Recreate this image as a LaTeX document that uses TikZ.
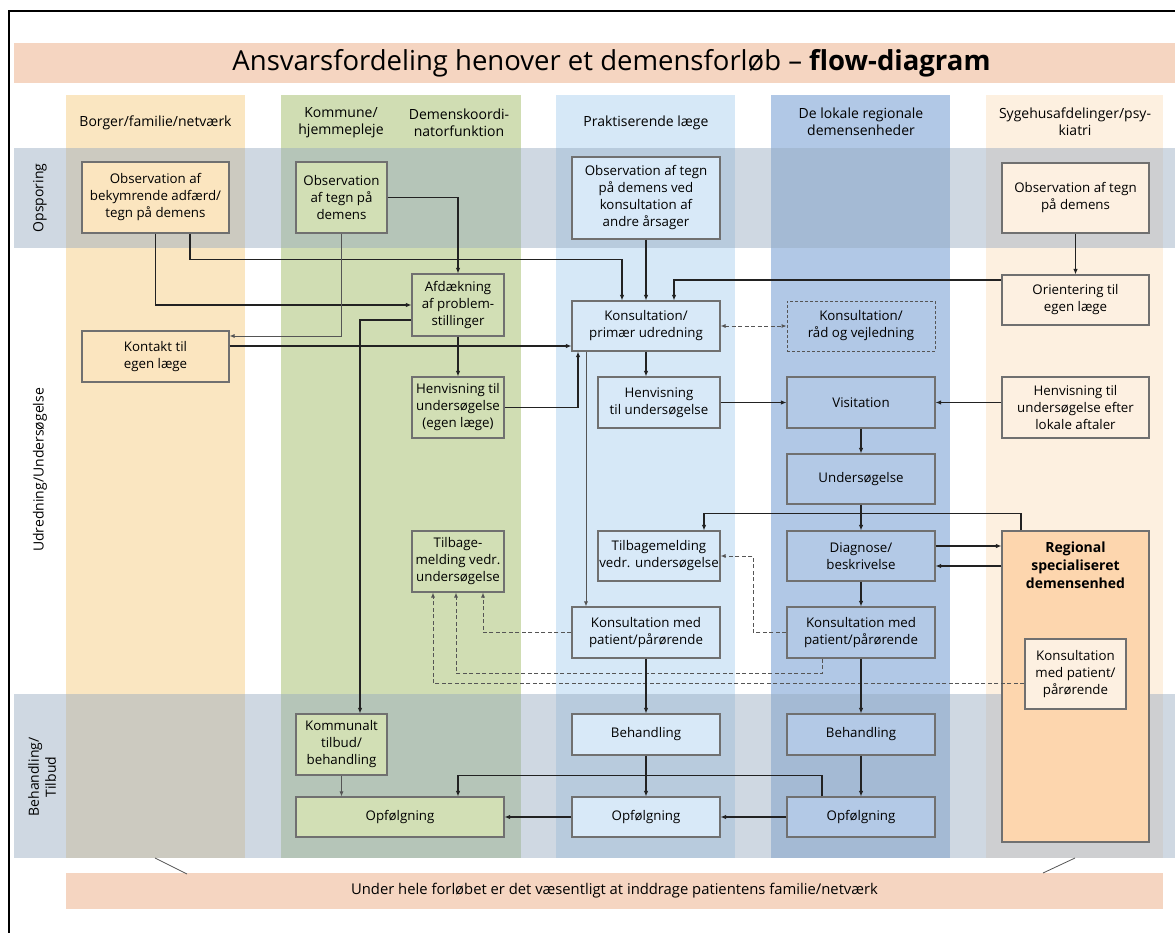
\documentclass[tikz,border=0pt]{standalone}
\usepackage{fontspec}
\setmainfont{Open Sans}
\usetikzlibrary{arrows.meta}
\definecolor{colYellow}{HTML}{FAE6C1}
\definecolor{colGreen}{HTML}{D0DDB3}
\definecolor{colLBlue}{HTML}{D6E8F7}
\definecolor{colMBlue}{HTML}{B1C8E6}
\definecolor{colPeach}{HTML}{FDF0E0}
\definecolor{titleBand}{HTML}{F5D5C1}
\definecolor{rowBand}{HTML}{95A9BF}
\definecolor{boxYellow}{HTML}{FBE5BF}
\definecolor{boxGreen}{HTML}{D2DFB5}
\definecolor{boxLBlue}{HTML}{D8E9F8}
\definecolor{boxMBlue}{HTML}{B3C9E6}
\definecolor{boxPeach}{HTML}{FDF0E1}
\definecolor{boxOrange}{HTML}{FDD6AE}
\definecolor{borderGray}{HTML}{707070}
\definecolor{lineDark}{HTML}{222222}
\definecolor{lineGray}{HTML}{555555}
\begin{document}
\begin{tikzpicture}[x=1pt,y=-1pt,
  bx/.style={draw=borderGray, line width=1.1pt, align=center, inner sep=0pt,
    font=\fontsize{13.3}{17}\selectfont},
  hdr/.style={align=center, font=\fontsize{14}{17}\selectfont, inner sep=0pt},
  conn/.style={draw=lineDark, line width=1.3pt, -{Latex[length=5.5pt,width=4.5pt]}},
  thinconn/.style={draw=lineGray, line width=0.8pt, -{Latex[length=5pt,width=4pt]}},
  dashconn/.style={draw=lineGray, line width=0.9pt, dash pattern=on 4pt off 2.5pt, -{Latex[length=5pt,width=4pt]}},
  band/.style={fill=rowBand, fill opacity=0.45, draw=none}
]
\useasboundingbox (0,0) rectangle (1175,933);
\fill[white] (0,0) rectangle (1175,933);
% frame
\draw[line width=2.2pt, black] (9,933) -- (9,11) -- (1175,11);
% title band
\fill[titleBand] (14,43) rectangle (1175,83);
\node[inner sep=0pt, font=\fontsize{27.5}{32}\selectfont] (title) at (611.5,63) {Ansvarsfordeling henover et demensforløb – \textbf{flow-diagram}};
% columns
\fill[colYellow] (66,95) rectangle (245,858);
\fill[colGreen] (281,95) rectangle (521,858);
\fill[colLBlue] (556,95) rectangle (735,858);
\fill[colMBlue] (771,95) rectangle (950,858);
\fill[colPeach] (986,95) rectangle (1163,858);
% row bands
\fill[band] (14,148) rectangle (1175,248);
\fill[band] (14,694) rectangle (1175,858);
% column headers
\node[hdr] (h1) at (155.5,123) {Borger/familie/netværk};
\node[hdr] (h2) at (341,123) {Kommune/\\hjemmepleje};
\node[hdr] (h3) at (459,123) {Demenskoordi-\\natorfunktion};
\node[hdr] (h4) at (646,123) {Praktiserende læge};
\node[hdr] (h5) at (861,122) {De lokale regionale\\demensenheder};
\node[hdr] (h6) at (1075,122) {Sygehusafdelinger/psy-\\kiatri};
% row labels
\node[hdr, rotate=90] (r1) at (40,198) {Opsporing};
\node[hdr, rotate=90] (r2) at (40,470) {Udredning/Undersøgelse};
\node[hdr, rotate=90] (r3) at (42,777) {Behandling/\\Tilbud};
% bottom band
\fill[titleBand] (66,873) rectangle (1163,909);
\node[hdr, font=\fontsize{14.8}{17}\selectfont] (foot) at (614.5,891) {Under hele forløbet er det væsentligt at inddrage patientens familie/netværk};
\draw[lineGray, line width=0.8pt] (155,858) -- (187,874);
\draw[lineGray, line width=0.8pt] (1075,858) -- (1043,873);
% boxes: Borger
\node[bx, fill=boxYellow, minimum width=147pt, minimum height=71pt] (B1) at (155.5,197.5) {Observation af\\bekymrende adfærd/\\tegn på demens};
\node[bx, fill=boxYellow, minimum width=147pt, minimum height=51pt] (B2) at (155.5,356.5) {Kontakt til\\egen læge};
% Kommune
\node[bx, fill=boxGreen, minimum width=91pt, minimum height=71pt] (G1) at (341.5,197.5) {Observation\\af tegn på\\demens};
\node[bx, fill=boxGreen, minimum width=92pt, minimum height=62pt] (G2) at (458,305) {Afdækning\\af problem-\\stillinger};
\node[bx, fill=boxGreen, minimum width=92pt, minimum height=61pt] (G3) at (458,407.5) {Henvisning til\\undersøgelse\\(egen læge)};
\node[bx, fill=boxGreen, minimum width=92pt, minimum height=61pt] (G4) at (458,561.5) {Tilbage-\\melding vedr.\\undersøgelse};
\node[bx, fill=boxGreen, minimum width=91pt, minimum height=61pt] (G5) at (341.5,744.5) {Kommunalt\\tilbud/\\behandling};
\node[bx, fill=boxGreen, minimum width=208pt, minimum height=40pt] (G6) at (400,817) {Opfølgning};
% Praktiserende laege
\node[bx, fill=boxLBlue, minimum width=148pt, minimum height=82pt] (P1) at (646,198) {Observation af tegn\\på demens ved\\konsultation af\\andre årsager};
\node[bx, fill=boxLBlue, minimum width=148pt, minimum height=50pt] (P2) at (646,326) {Konsultation/\\primær udredning};
\node[bx, fill=boxLBlue, minimum width=122pt, minimum height=51pt] (P3) at (659,402.5) {Henvisning\\til undersøgelse};
\node[bx, fill=boxLBlue, minimum width=122pt, minimum height=50pt] (P4) at (659,556) {Tilbagemelding\\vedr. undersøgelse};
\node[bx, fill=boxLBlue, minimum width=148pt, minimum height=51pt] (P5) at (646,632.5) {Konsultation med\\patient/pårørende};
\node[bx, fill=boxLBlue, minimum width=148pt, minimum height=41pt] (P6) at (646,734.5) {Behandling};
\node[bx, fill=boxLBlue, minimum width=148pt, minimum height=40pt] (P7) at (646,817) {Opfølgning};
% Lokale regionale
\node[bx, dash pattern=on 3pt off 2pt, draw=lineGray, line width=0.9pt, minimum width=148pt, minimum height=50pt] (D0) at (861,326) {Konsultation/\\råd og vejledning};
\node[bx, fill=boxMBlue, minimum width=148pt, minimum height=51pt] (D1) at (861,402.5) {Visitation};
\node[bx, fill=boxMBlue, minimum width=148pt, minimum height=50pt] (D2) at (861,479) {Undersøgelse};
\node[bx, fill=boxMBlue, minimum width=148pt, minimum height=50pt] (D3) at (861,556) {Diagnose/\\beskrivelse};
\node[bx, fill=boxMBlue, minimum width=148pt, minimum height=51pt] (D4) at (861,632.5) {Konsultation med\\patient/pårørende};
\node[bx, fill=boxMBlue, minimum width=148pt, minimum height=41pt] (D5) at (861,734.5) {Behandling};
\node[bx, fill=boxMBlue, minimum width=148pt, minimum height=40pt] (D6) at (861,817) {Opfølgning};
% Sygehus
\node[bx, fill=boxPeach, minimum width=147pt, minimum height=70pt] (S1) at (1075.5,198) {Observation af tegn\\på demens};
\node[bx, fill=boxPeach, minimum width=147pt, minimum height=50pt] (S2) at (1075.5,300) {Orientering til\\egen læge};
\node[bx, fill=boxPeach, minimum width=147pt, minimum height=61pt] (S3) at (1075.5,407.5) {Henvisning til\\undersøgelse efter\\lokale aftaler};
\node[bx, fill=boxOrange, minimum width=147pt, minimum height=311pt,
  label={[anchor=north, align=center, inner sep=0pt, yshift=-11pt, font=\fontsize{14}{18}\selectfont\bfseries]north:Regional\\specialiseret\\demensenhed}] (S4) at (1075.5,686.5) {};
\node[bx, fill=boxPeach, minimum width=101pt, minimum height=70pt] (S5) at (1075.5,674) {Konsultation\\med patient/\\pårørende};
% connectors
\draw[conn] (B1.south) |- (G2.west);
\draw[conn] ([xshift=34.5pt]B1.south) -- ++(0,26) -| ([xshift=-24pt]P2.north);
\draw[conn] (G1.east) -| (G2.north);
\draw[thinconn] (G1.south) |- ([yshift=20.5pt]B2.east);
\coordinate (b2o) at ([yshift=10.5pt]B2.east);
\draw[conn] (b2o) -- (b2o -| P2.west);
\draw[conn] ([yshift=-15pt]G2.west) -| ([xshift=18.5pt]G5.north);
\draw[conn] (G2.south) -- (G3.north);
\draw[conn] (G3.east) -| ([xshift=-68pt]P2.south);
\draw[thinconn] ([xshift=-60pt]P2.south) -- ([xshift=-60pt]P5.north);
\draw[conn] (P1.south) -- (P2.north);
\draw[conn] (S1.south) -- (S2.north);
\draw[conn] ([yshift=20pt]S2.west) -| ([xshift=28pt]P2.north);
\draw[dashconn, {Latex[length=5pt,width=4pt]}-{Latex[length=5pt,width=4pt]}] (P2.east) -- (D0.west);
\draw[conn] (P2.south) -- (P2.south |- P3.north);
\draw[conn] (P3.east) -- (D1.west);
\draw[conn] (D1.east -| S3.west) -- (D1.east);
\draw[conn] (D1.south) -- (D2.north);
\draw[conn] (D2.south) -- (D3.north);
\draw[conn] ([xshift=-54.5pt]S4.north) -- ++(0,-17) -| ([xshift=45pt]P4.north);
\coordinate (d3a) at ([yshift=10pt]D3.east);
\coordinate (d3b) at ([yshift=-10pt]D3.east);
\draw[conn] (d3a) -- (d3a -| S4.west);
\draw[conn] (d3b -| S4.west) -- (d3b);
\draw[conn] (D3.south) -- (D4.north);
\draw[dashconn] (D4.west) -- ++(-33,0) |- (P4.east);
\draw[dashconn] (P5.west) -| ([xshift=25pt]G4.south);
\draw[dashconn] ([xshift=-39pt]D4.south) -- ++(0,15) -| ([xshift=-2pt]G4.south);
\draw[dashconn] ([yshift=-9.5pt]S5.west) -| ([xshift=-25pt]G4.south);
\draw[conn] (P5.south) -- (P6.north);
\draw[conn] (D4.south) -- (D5.north);
\draw[conn] (P6.south) -- (P7.north);
\draw[conn] (D5.south) -- (D6.north);
\draw[conn] ([xshift=-39pt]D6.north) -- ++(0,-21) -| ([xshift=58pt]G6.north);
\draw[conn] (D6.west) -- (P7.east);
\draw[conn] (P7.west) -- (G6.east);
\draw[thinconn] (G5.south) -- (G5.south |- G6.north);
\end{tikzpicture}
\end{document}
